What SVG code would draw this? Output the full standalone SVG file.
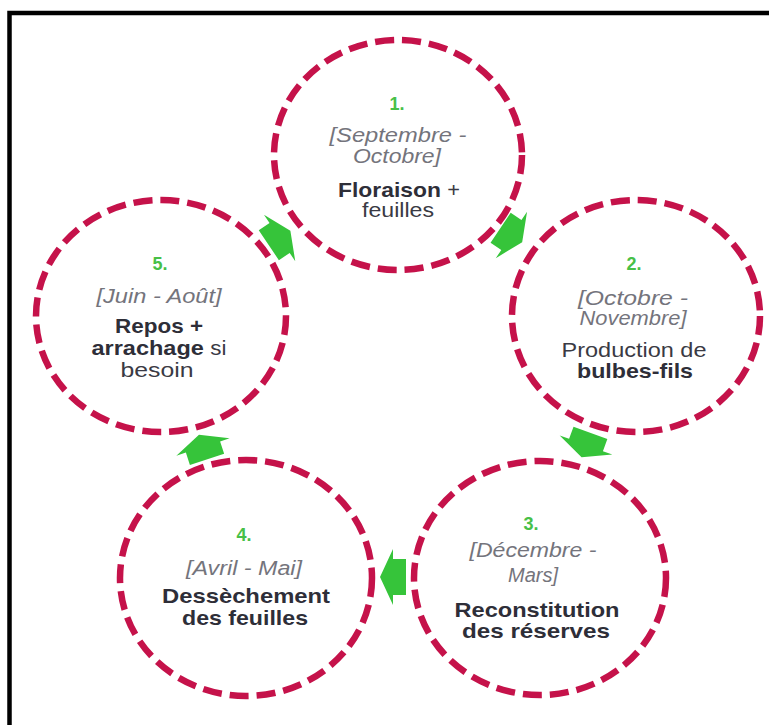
<svg xmlns="http://www.w3.org/2000/svg" xmlns:xlink="http://www.w3.org/1999/xlink" width="769" height="725" viewBox="0 0 769 725">
<style>
.ring{fill:none;stroke:#c5124a;stroke-width:6.5;stroke-dasharray:19 8}
.t{font-family:"Liberation Sans",Arial,sans-serif;text-anchor:middle}
.num{font-size:18px;font-weight:bold;fill:#47c047}
.it{font-size:20px;font-style:italic;fill:#74747c}
.b{font-size:21px;font-weight:bold;fill:#2e2e38}
.r{font-size:20px;font-weight:normal;fill:#3a3a44}
.arrow{fill:#36c43a}
</style>
<defs>
<path id="arr" d="M -13,-18 H 0 V -28 L 13,0 L 0,28 V 18 H -13 Z"/>
</defs>
<rect width="769" height="725" fill="#ffffff"/>
<path d="M 9.5,725 V 13 H 769" fill="none" stroke="#000" stroke-width="4.5"/>

<g id="connectors" class="arrow">
<use xlink:href="#arr" transform="translate(279.6,238) rotate(-34)"/>
<use xlink:href="#arr" transform="translate(511.4,235) rotate(34)"/>
<use xlink:href="#arr" transform="translate(586,445) rotate(110)"/>
<use xlink:href="#arr" transform="translate(393,577) rotate(180)"/>
<use xlink:href="#arr" transform="translate(203,447) rotate(-108)"/>
</g>

<g id="node1">
<ellipse class="ring" cx="398" cy="155" rx="124" ry="115"/>
<text class="t num" x="397" y="110">1.</text>
<text class="t it" x="398" y="142" textLength="137" lengthAdjust="spacingAndGlyphs">[Septembre -</text>
<text class="t it" x="397" y="163" textLength="88" lengthAdjust="spacingAndGlyphs">Octobre]</text>
<text class="t b" x="399" y="197" textLength="122" lengthAdjust="spacingAndGlyphs">Floraison <tspan class="r">+</tspan></text>
<text class="t r" x="398" y="217" textLength="72" lengthAdjust="spacingAndGlyphs">feuilles</text>
</g>

<g id="node2">
<ellipse class="ring" cx="636" cy="316" rx="124" ry="116"/>
<text class="t num" x="634" y="270">2.</text>
<text class="t it" x="633" y="305" textLength="110" lengthAdjust="spacingAndGlyphs">[Octobre -</text>
<text class="t it" x="633" y="325" textLength="107" lengthAdjust="spacingAndGlyphs">Novembre]</text>
<text class="t r" x="634" y="357" textLength="145" lengthAdjust="spacingAndGlyphs">Production de</text>
<text class="t b" x="635" y="378" textLength="116" lengthAdjust="spacingAndGlyphs">bulbes-fils</text>
</g>

<g id="node3">
<ellipse class="ring" cx="540" cy="578" rx="126" ry="117"/>
<text class="t num" x="531" y="530">3.</text>
<text class="t it" x="533" y="557" textLength="127" lengthAdjust="spacingAndGlyphs">[Décembre -</text>
<text class="t it" x="533" y="582" textLength="50" lengthAdjust="spacingAndGlyphs">Mars]</text>
<text class="t b" x="537" y="617" textLength="165" lengthAdjust="spacingAndGlyphs">Reconstitution</text>
<text class="t b" x="536" y="638" textLength="148" lengthAdjust="spacingAndGlyphs">des réserves</text>
</g>

<g id="node4">
<ellipse class="ring" cx="246" cy="578" rx="126" ry="118"/>
<text class="t num" x="244" y="541">4.</text>
<text class="t it" x="244" y="575" textLength="116" lengthAdjust="spacingAndGlyphs">[Avril - Mai]</text>
<text class="t b" x="246" y="603" textLength="168" lengthAdjust="spacingAndGlyphs">Dessèchement</text>
<text class="t b" x="245" y="625" textLength="126" lengthAdjust="spacingAndGlyphs">des feuilles</text>
</g>

<g id="node5">
<ellipse class="ring" cx="161" cy="316" rx="125" ry="116"/>
<text class="t num" x="160" y="270">5.</text>
<text class="t it" x="159" y="303" textLength="125" lengthAdjust="spacingAndGlyphs">[Juin - Août]</text>
<text class="t b" x="159" y="333" textLength="88" lengthAdjust="spacingAndGlyphs">Repos +</text>
<text class="t b" x="159" y="355" textLength="135" lengthAdjust="spacingAndGlyphs">arrachage <tspan class="r">si</tspan></text>
<text class="t r" x="157" y="377" textLength="73" lengthAdjust="spacingAndGlyphs">besoin</text>
</g>
</svg>
